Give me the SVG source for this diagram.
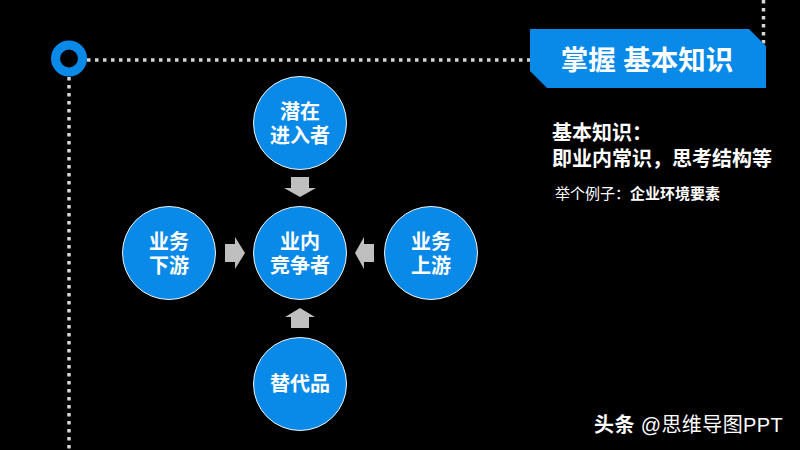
<svg xmlns="http://www.w3.org/2000/svg" width="800" height="450" viewBox="0 0 800 450">
<style>
.bg{fill:#000}
.dot{stroke:#d4d4d4;stroke-width:3.5;stroke-dasharray:3.5 4.5;fill:none}
.node{fill:#0a8ae8;stroke:#f2f2f2;stroke-width:1}
.nt{font-family:"Liberation Sans","Noto Sans CJK SC",sans-serif;font-weight:bold;font-size:20px;fill:#fff;text-anchor:middle}
.arr{fill:#bfbfbf}
.t{font-family:"Liberation Sans","Noto Sans CJK SC",sans-serif;fill:#fff}
</style>
<rect class="bg" x="0" y="0" width="800" height="450"/>
<g id="guides">
<line class="dot" x1="87" y1="60" x2="530" y2="60"/>
<line class="dot" x1="69" y1="77" x2="69" y2="450"/>
<line class="dot" x1="763.5" y1="0" x2="763.5" y2="44"/>
<circle cx="69" cy="58.5" r="13.5" fill="none" stroke="#0a8ae8" stroke-width="9"/>
</g>
<g id="title">
<polygon points="530,29 749,29 766,46 766,88 547,88 530,71" fill="#0a8ae8"/>
<text class="t" x="647" y="70" font-size="27.5" font-weight="bold" text-anchor="middle">掌握 基本知识</text>
</g>
<g id="desc">
<text class="t" x="552" y="140" font-size="20" font-weight="bold">基本知识：</text>
<text class="t" x="552" y="165.5" font-size="20" font-weight="bold">即业内常识，思考结构等</text>
<text class="t" x="555" y="199" font-size="15">举个例子：<tspan font-weight="bold">企业环境要素</tspan></text>
</g>
<g id="connectors">
<polygon class="arr" points="291,177 309,177 309,188 316,188 300,197 284,188 291,188"/>
<polygon class="arr" points="300,308 315,317 309,317 309,328 291,328 291,317 285,317"/>
<polygon class="arr" points="225,244 235,244 235,237 245,253 235,269 235,262 225,262"/>
<polygon class="arr" points="355,253 364,237 364,244 374,244 374,262 364,262 364,269"/>
</g>
<g id="node-entrants">
<circle class="node" cx="300" cy="123" r="46.5"/>
<text class="nt" x="300" y="119">潜在</text>
<text class="nt" x="300" y="143">进入者</text>
</g>
<g id="node-downstream">
<circle class="node" cx="169" cy="253" r="46.5"/>
<text class="nt" x="169" y="249">业务</text>
<text class="nt" x="169" y="273">下游</text>
</g>
<g id="node-competitors">
<circle class="node" cx="300" cy="253" r="46.5"/>
<text class="nt" x="300" y="249">业内</text>
<text class="nt" x="300" y="273">竞争者</text>
</g>
<g id="node-upstream">
<circle class="node" cx="431" cy="253" r="46.5"/>
<text class="nt" x="431" y="249">业务</text>
<text class="nt" x="431" y="273">上游</text>
</g>
<g id="node-substitutes">
<circle class="node" cx="300" cy="384" r="46.5"/>
<text class="nt" x="300" y="391">替代品</text>
</g>
<g id="watermark">
<text class="t" x="594" y="432" font-size="20" letter-spacing="0.4" fill="#ececec"><tspan font-weight="bold">头条</tspan> @思维导图PPT</text>
</g>
</svg>
